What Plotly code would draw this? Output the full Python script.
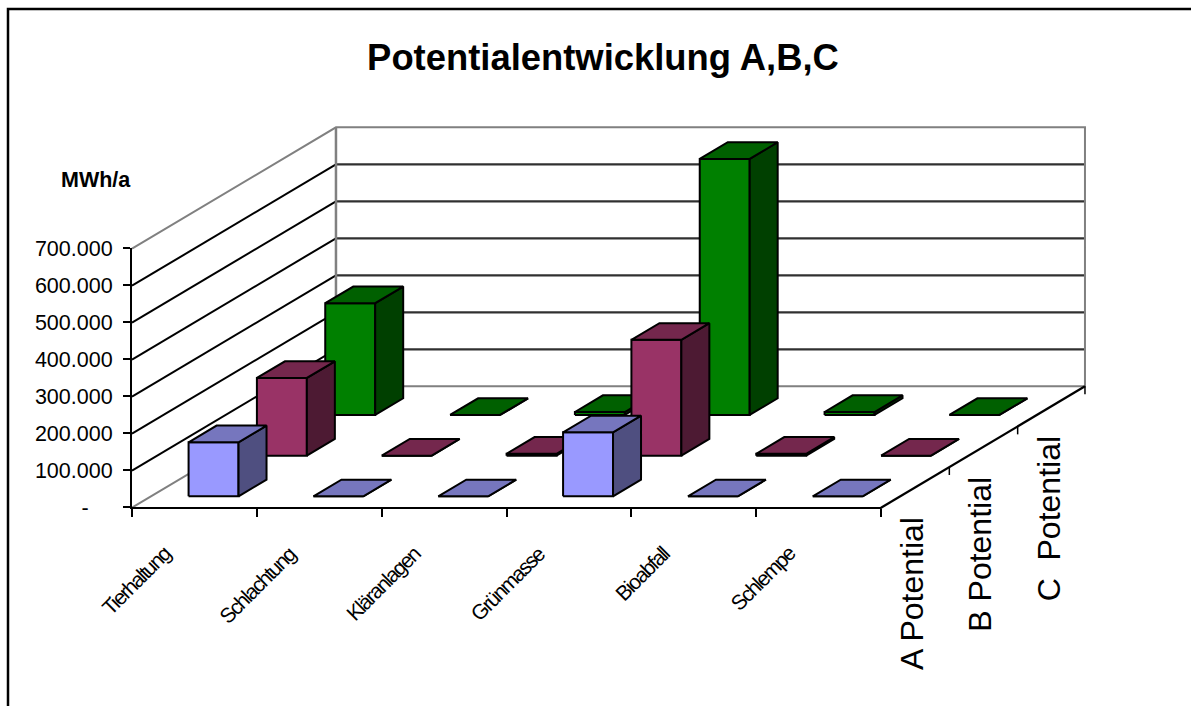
import json
import plotly.graph_objects as go

# Biogas potential by source, one row of bars per scenario
categories = ["Tierhaltung", "Schlachtung", "Kläranlagen", "Grünmasse", "Bioabfall", "Schlempe"]
series_names = ["A Potential", "B Potential", "C\u00a0\u00a0Potential"]
a_potential = [146000, 0, 0, 173000, 0, 0]
b_potential = [210000, 0, 5000, 313000, 5000, 0]
c_potential = [302000, 0, 8000, 692000, 8000, 0]
value_ticks = [0, 100000, 200000, 300000, 400000, 500000, 600000, 700000]
value_labels = ["-\u00a0\u00a0\u00a0\u00a0", "100.000", "200.000", "300.000", "400.000", "500.000", "600.000", "700.000"]

series_values = [a_potential, b_potential, c_potential]
# (front, top, side) shading for each series
series_faces = [
    ("#9999FF", "#7676BE", "#4F4F80"),
    ("#993366", "#74274D", "#4D1A33"),
    ("#008000", "#006000", "#004000"),
]

W, H = 1191, 706
LEFT, RIGHT, BASE, TOP = 132, 881, 507, 248
CAT_PX = (RIGHT - LEFT) / len(categories)
VAL_PX = (BASE - TOP) / value_ticks[-1]
# Oblique projection: one series step of depth expressed in axis units
DEPTH_X = 68.33 / CAT_PX
DEPTH_Y = 40.67 / VAL_PX
ROWS = len(series_names)
WALL_DEPTH = 2.985
VMAX = value_ticks[-1]

BAR_START, BAR_END = 0.3, 0.7
DEPTH_START, DEPTH_END = 0.28, 0.69
STROKE = 2
# Tight tracking of the category labels, in px per glyph
LABEL_TRACK = 1.7


def project(cat, depth, value):
    return cat + depth * DEPTH_X, value + depth * DEPTH_Y


def poly(points, fill=None, color="black", width=STROKE):
    xs, ys = zip(*[project(*p) for p in points])
    kw = dict(fill="toself", fillcolor=fill) if fill else {}
    return go.Scatter(
        x=list(xs), y=list(ys), mode="lines", line=dict(color=color, width=width),
        hoverinfo="skip", showlegend=False, xaxis="x", yaxis="y", **kw,
    )


fig = go.Figure()
n_cat = len(categories)

# Back wall and side wall
for v in value_ticks[1:-1]:
    fig.add_trace(poly([(0, WALL_DEPTH, v), (n_cat, WALL_DEPTH, v)], color="#303030", width=2.2))
    fig.add_trace(poly([(0, 0, v), (0, WALL_DEPTH, v)], color="black", width=STROKE))
fig.add_trace(poly([(0, 0, VMAX), (0, WALL_DEPTH, VMAX), (n_cat, WALL_DEPTH, VMAX),
                    (n_cat, WALL_DEPTH, 0), (0, WALL_DEPTH, 0), (0, 0, 0)], color="#808080", width=2))
fig.add_trace(poly([(0, WALL_DEPTH, VMAX), (0, WALL_DEPTH, 0)], color="#808080", width=2.5))

# Floor edge running into depth, with its ticks
fig.add_trace(poly([(n_cat, 0, 0), (n_cat, WALL_DEPTH, 0)], color="black", width=2.2))
for d in (0, 1, 2, WALL_DEPTH):
    px, py = project(n_cat, d, 0)
    fig.add_trace(go.Scatter(x=[px, px], y=[py, py - 8 / VAL_PX], mode="lines",
                             line=dict(color="black", width=1.5), hoverinfo="skip", showlegend=False))

# Bars, from the rear row forward
for row in reversed(range(ROWS)):
    front, top, side = series_faces[row]
    for c, value in enumerate(series_values[row]):
        x0, x1 = c + BAR_START, c + BAR_END
        d0, d1 = row + DEPTH_START, row + DEPTH_END
        fig.add_trace(poly([(x0, d0, 0), (x1, d0, 0), (x1, d0, value), (x0, d0, value), (x0, d0, 0)], front))
        fig.add_trace(poly([(x1, d0, 0), (x1, d1, 0), (x1, d1, value), (x1, d0, value), (x1, d0, 0)], side))
        fig.add_trace(poly([(x0, d0, value), (x1, d0, value), (x1, d1, value), (x0, d1, value), (x0, d0, value)], top))

# Keeps the front axes subplot alive
fig.add_trace(go.Scatter(x=[0], y=[0], mode="markers", marker=dict(opacity=0), xaxis="x2", yaxis="y2",
                         hoverinfo="skip", showlegend=False))

annotations = [
    dict(text="<b>MWh/a</b>", x=96 / W, y=1 - 180 / H, xref="paper", yref="paper",
         showarrow=False, font=dict(size=21.5), xanchor="center", yanchor="middle"),
]
for c, name in enumerate(categories):
    # Tracking is applied after layout, so the box is still the untracked one: pull the text back to its corner
    pull = len(name) * LABEL_TRACK / 2 * 0.707
    annotations.append(dict(text=name, x=c + 0.5, y=0, xref="x", yref="y", xanchor="right", yanchor="top",
                            xshift=-17 + pull, yshift=-32 + pull, textangle=-45, showarrow=False,
                            font=dict(size=21)))
for d, name in enumerate(series_names):
    px, py = project(n_cat, d + 0.5, 0)
    annotations.append(dict(text=name, x=px, y=py, xref="x", yref="y", xanchor="center", yanchor="top",
                            xshift=-3, yshift=-28, textangle=-90, showarrow=False, font=dict(size=32)))

fig.update_layout(
    width=W, height=H, margin=dict(l=0, r=0, t=0, b=0, autoexpand=False),
    paper_bgcolor="white", plot_bgcolor="rgba(0,0,0,0)",
    font=dict(family="Liberation Sans, Arial, sans-serif", color="black"),
    showlegend=False,
    title=dict(text="<b>Potentialentwicklung A,B,C</b>", x=603 / W, xanchor="center",
               y=1 - 57 / H, yanchor="middle", font=dict(size=36.4)),
    xaxis=dict(visible=False, domain=[0, 1], fixedrange=True,
               range=[-LEFT / CAT_PX, (W - LEFT) / CAT_PX]),
    yaxis=dict(visible=False, domain=[0, 1], fixedrange=True,
               range=[(BASE + 0.7 - H) / VAL_PX, (BASE + 0.7) / VAL_PX]),
    xaxis2=dict(domain=[LEFT / W, RIGHT / W], range=[0, n_cat], anchor="y2",
                tickvals=list(range(n_cat + 1)), showticklabels=False, ticks="outside",
                ticklen=8, tickwidth=1.5, tickcolor="black", showline=True, linecolor="black",
                linewidth=2.2, showgrid=False, zeroline=False, fixedrange=True),
    yaxis2=dict(domain=[1 - BASE / H, 1 - TOP / H], range=[0, VMAX], anchor="x2",
                tickvals=value_ticks, ticktext=value_labels, tickfont=dict(size=21.5), ticks="outside",
                ticklen=7, tickwidth=1.5, tickcolor="black", showline=True, linecolor="black",
                linewidth=2.2, showgrid=False, zeroline=False, fixedrange=True, ticklabelstandoff=6),
    annotations=annotations,
    # Chart frame: only the top and left edges fall inside the page
    shapes=[dict(type="path", xref="paper", yref="paper", layer="above",
                 path=f"M {8 / W} 0 L {8 / W} {1 - 9 / H} L 1 {1 - 9 / H}",
                 line=dict(color="black", width=2.5))],
)

# Plotly has no tracking attribute, so the category labels get it through CSS
tracking_js = (
    "var names = " + json.dumps(categories, ensure_ascii=False) + ";"
    "document.querySelectorAll('.annotation-text').forEach(function (t) {"
    "  if (names.indexOf(t.textContent) >= 0) { t.style.letterSpacing = '-" + str(LABEL_TRACK) + "px'; }"
    "});"
)
fig.write_html("out.html", post_script=tracking_js)
